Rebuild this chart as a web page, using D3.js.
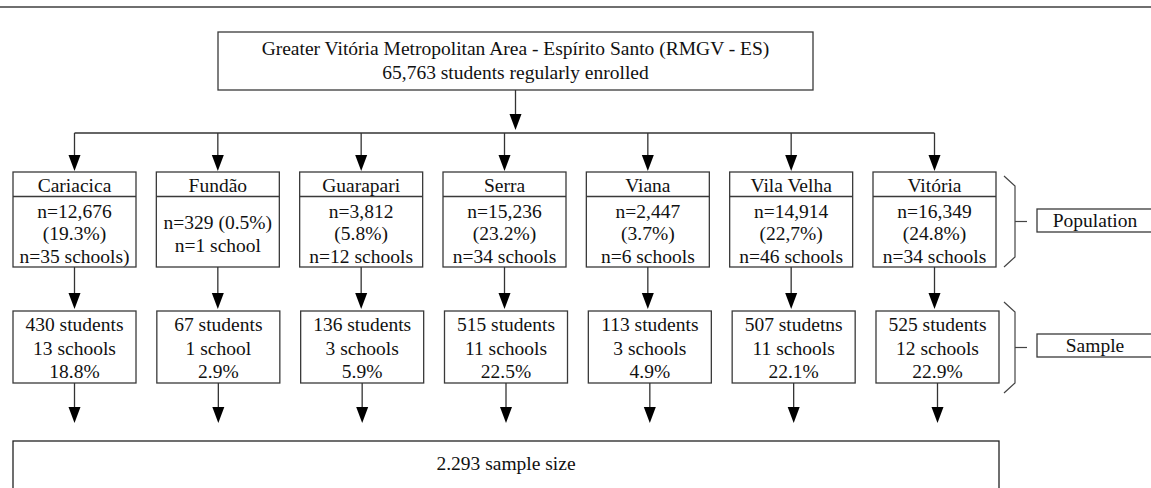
<!DOCTYPE html>
<html>
<head>
<meta charset="utf-8">
<script src="https://cdn.jsdelivr.net/npm/d3@7"></script>
<style>
  html, body { margin: 0; padding: 0; background: #fff; }
  svg { display: block; }
  text { font-family: "Liberation Serif", "DejaVu Serif", serif; fill: #111; }
</style>
</head>
<body>
<svg id="chart" width="1151" height="488"></svg>
<script>
// ---------- data ----------
const topTitle = ["Greater Vitória Metropolitan Area - Espírito Santo (RMGV - ES)",
                  "65,763 students regularly enrolled"];
const municipalities = ["Cariacica", "Fundão", "Guarapari", "Serra", "Viana", "Vila Velha", "Vitória"];
const popCountLabels = ["n=12,676", "n=329 (0.5%)", "n=3,812", "n=15,236", "n=2,447", "n=14,914", "n=16,349"];
const popShareLabels = ["(19.3%)", null, "(5.8%)", "(23.2%)", "(3.7%)", "(22,7%)", "(24.8%)"];
const popSchoolLabels = ["n=35 schools)", "n=1 school", "n=12 schools", "n=34 schools", "n=6 schools", "n=46 schools", "n=34 schools"];
const sampleStudentLabels = ["430 students", "67 students", "136 students", "515 students", "113 students", "507 studetns", "525 students"];
const sampleSchoolLabels = ["13 schools", "1 school", "3 schools", "11 schools", "3 schools", "11 schools", "12 schools"];
const sampleShareLabels = ["18.8%", "2.9%", "5.9%", "22.5%", "4.9%", "22.1%", "22.9%"];
const totalLabel = "2.293 sample size";
const sideLabels = ["Population", "Sample"];

// ---------- layout ----------
const FONT = 19.5;
const boxStroke = "#3a3a3a";
const lineStroke = "#333";
const svg = d3.select("#chart");

// top rule
svg.append("line").attr("x1", 0).attr("x2", 1151).attr("y1", 7).attr("y2", 7)
  .attr("stroke", "#6f6f6f").attr("stroke-width", 2);

const xPop = d3.scaleBand().domain(municipalities).range([13, 996]).paddingInner(0.1419).paddingOuter(0);
const xSam = d3.scaleBand().domain(municipalities).range([13, 999]).paddingInner(0.1448).paddingOuter(0);

const popTop = 172, popDiv = 196.5, popBottom = 267;
const samTop = 311, samBottom = 383;
const topBox = {x0: 218, x1: 813, y0: 32, y1: 90};
const hLineY = 133;
const bottomBox = {x0: 13, x1: 999, y0: 441};

function arrow(x, y0, yTip) {
  const g = svg.append("g");
  g.append("line").attr("x1", x).attr("x2", x).attr("y1", y0).attr("y2", yTip - 14)
    .attr("stroke", lineStroke).attr("stroke-width", 1.3);
  g.append("path").attr("d", `M${x - 6},${yTip - 16} L${x + 6},${yTip - 16} L${x},${yTip} Z`)
    .attr("fill", "#000");
}
function textLine(x, y, s, anchor) {
  svg.append("text").attr("x", x).attr("y", y).attr("dy", "0.35em")
    .attr("text-anchor", anchor || "middle").attr("font-size", FONT).text(s);
}

// top box
svg.append("rect").attr("x", topBox.x0).attr("y", topBox.y0)
  .attr("width", topBox.x1 - topBox.x0).attr("height", topBox.y1 - topBox.y0)
  .attr("fill", "#fff").attr("stroke", boxStroke).attr("stroke-width", 1.3);
const topCx = (topBox.x0 + topBox.x1) / 2;
topTitle.forEach((s, i) => textLine(topCx, 48 + i * 24, s));
arrow(topCx, topBox.y1, 130);

// horizontal distributor
const popCenters = municipalities.map(m => xPop(m) + xPop.bandwidth() / 2);
svg.append("line").attr("x1", d3.min(popCenters)).attr("x2", d3.max(popCenters))
  .attr("y1", hLineY).attr("y2", hLineY).attr("stroke", lineStroke).attr("stroke-width", 1.3);

municipalities.forEach((m, i) => {
  const x0 = xPop(m), w = xPop.bandwidth(), cx = x0 + w / 2;
  arrow(cx, hLineY, popTop - 1);
  svg.append("rect").attr("x", x0).attr("y", popTop).attr("width", w).attr("height", popBottom - popTop)
    .attr("fill", "#fff").attr("stroke", boxStroke).attr("stroke-width", 1.3);
  svg.append("line").attr("x1", x0).attr("x2", x0 + w).attr("y1", popDiv).attr("y2", popDiv)
    .attr("stroke", boxStroke).attr("stroke-width", 1.3);
  textLine(cx, 185, m);
  const lines = [popCountLabels[i], popShareLabels[i], popSchoolLabels[i]].filter(d => d != null);
  const mid = 233.5, sp = 22.5;
  lines.forEach((s, j) => textLine(cx, mid + (j - (lines.length - 1) / 2) * sp, s));
  // population -> sample arrow
  arrow(cx, popBottom, samTop - 2);

  const sx0 = xSam(m), sw = xSam.bandwidth(), scx = sx0 + sw / 2;
  svg.append("rect").attr("x", sx0).attr("y", samTop).attr("width", sw).attr("height", samBottom - samTop)
    .attr("fill", "#fff").attr("stroke", boxStroke).attr("stroke-width", 1.3);
  [sampleStudentLabels[i], sampleSchoolLabels[i], sampleShareLabels[i]]
    .forEach((s, j) => textLine(scx, 324 + j * 23.7, s));
  arrow(scx, samBottom, 423);
});

// bottom box
svg.append("rect").attr("x", bottomBox.x0).attr("y", bottomBox.y0)
  .attr("width", bottomBox.x1 - bottomBox.x0).attr("height", 80)
  .attr("fill", "#fff").attr("stroke", "#222").attr("stroke-width", 1.3);
textLine((bottomBox.x0 + bottomBox.x1) / 2, 463, totalLabel);

// brackets + side labels
const brackets = [{y0: 176, y1: 267, label: sideLabels[0], by0: 209, by1: 232},
                  {y0: 302, y1: 393, label: sideLabels[1], by0: 334, by1: 357}];
brackets.forEach(b => {
  const ym = (b.y0 + b.y1) / 2;
  svg.append("path")
    .attr("d", `M1004,${b.y0} L1015,${b.y0 + 10} L1015,${b.y1 - 10} L1004,${b.y1}`)
    .attr("fill", "none").attr("stroke", "#444").attr("stroke-width", 1.2);
  svg.append("line").attr("x1", 1015).attr("x2", 1027).attr("y1", ym).attr("y2", ym)
    .attr("stroke", "#444").attr("stroke-width", 1.2);
  svg.append("rect").attr("x", 1037).attr("y", b.by0).attr("width", 130).attr("height", b.by1 - b.by0)
    .attr("fill", "#fff").attr("stroke", boxStroke).attr("stroke-width", 1.3);
  textLine(1095, (b.by0 + b.by1) / 2, b.label);
});
</script>
</body>
</html>
